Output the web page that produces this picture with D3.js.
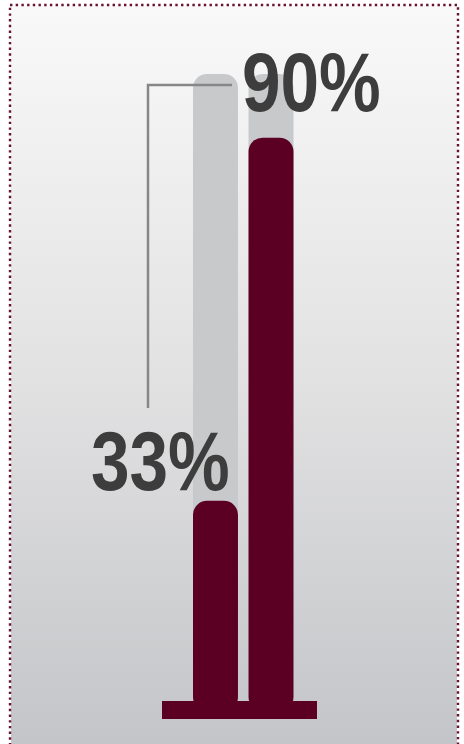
<!DOCTYPE html>
<html>
<head>
<meta charset="utf-8">
<script src="https://cdn.jsdelivr.net/npm/d3@7"></script>
<style>
  html, body { margin: 0; padding: 0; background: #ffffff; }
  svg { display: block; }
</style>
</head>
<body>
<svg id="chart" width="464" height="744"></svg>
<script>
// ---- data ----
const categories = ["Bar 1", "Bar 2"];
const values = [33, 90];
const labels = ["33%", "90%"];
const maxValue = 100;

// ---- setup ----
const W = 464, H = 744;
const svg = d3.select("#chart");

const defs = svg.append("defs");
const grad = defs.append("linearGradient")
  .attr("id", "bg").attr("x1", 0).attr("y1", 0).attr("x2", 0).attr("y2", 1);
grad.append("stop").attr("offset", "0%").attr("stop-color", "#f9f9f9");
grad.append("stop").attr("offset", "50%").attr("stop-color", "#e2e2e3");
grad.append("stop").attr("offset", "100%").attr("stop-color", "#c4c5c8");

// background panel with dotted border (extends below the view)
svg.append("rect")
  .attr("x", 11).attr("y", 6).attr("width", 446).attr("height", 738)
  .attr("fill", "url(#bg)");
svg.append("rect")
  .attr("x", 10).attr("y", 5).attr("width", 448).attr("height", 800)
  .attr("fill", "none")
  .attr("stroke", "#6a1232")
  .attr("stroke-width", 2.4)
  .attr("stroke-dasharray", "2.4 3.3");

// scales
const x = d3.scaleBand().domain(categories).range([193, 293.5])
  .paddingInner(0.19).paddingOuter(0);
const y = d3.scaleLinear().domain([0, maxValue]).range([711, 74]);

const r = 14;
const data = categories.map((c, i) => ({ c, v: values[i], label: labels[i] }));

// tracks
svg.append("g").selectAll("rect").data(data).join("rect")
  .attr("x", d => x(d.c))
  .attr("y", y(maxValue))
  .attr("width", x.bandwidth())
  .attr("height", y(0) - y(maxValue))
  .attr("rx", r).attr("ry", r)
  .attr("fill", "#c8c9cb");

// connector line for first label
svg.append("path")
  .attr("d", d3.line()([[148, 408], [148, 85], [232, 85]]))
  .attr("fill", "none")
  .attr("stroke", "#878787")
  .attr("stroke-width", 2.5);

// value bars
svg.append("g").selectAll("rect").data(data).join("rect")
  .attr("x", d => x(d.c))
  .attr("y", d => y(d.v))
  .attr("width", x.bandwidth())
  .attr("height", d => y(0) - y(d.v))
  .attr("rx", r).attr("ry", r)
  .attr("fill", "#5c0023");

// base plate
svg.append("rect")
  .attr("x", 162).attr("y", 701).attr("width", 155).attr("height", 18)
  .attr("fill", "#5c0023");

// labels
const labelPos = [
  { x: 91, y: 490 },
  { x: 242, y: 111 }
];
svg.append("g").selectAll("text").data(data).join("text")
  .attr("transform", (d, i) => `translate(${labelPos[i].x},${labelPos[i].y}) scale(0.825,1)`)
  .attr("font-family", "'Liberation Sans', Arial, sans-serif")
  .attr("font-weight", "bold")
  .attr("font-size", 84)
  .attr("fill", "#3d3d3d")
  .text(d => d.label);
</script>
</body>
</html>
